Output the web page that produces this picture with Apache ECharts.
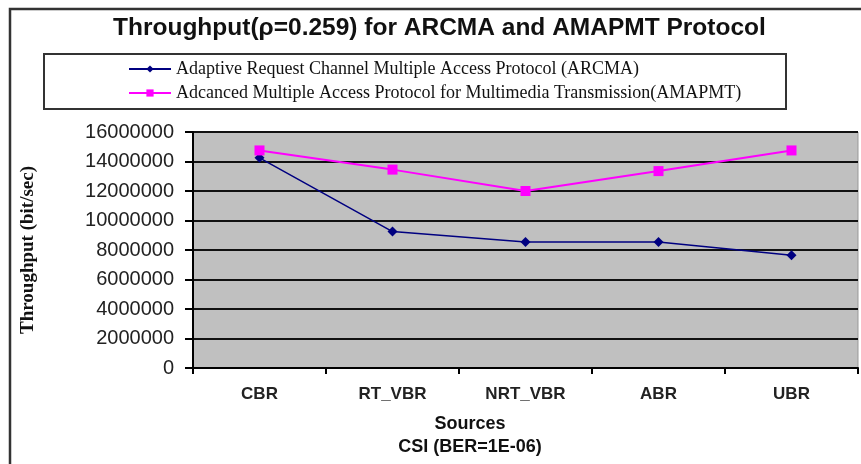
<!DOCTYPE html>
<html>
<head>
<meta charset="utf-8">
<script src="https://cdn.jsdelivr.net/npm/echarts@6/dist/echarts.min.js"></script>
<style>
  html, body { margin: 0; padding: 0; background: #fff; }
  #chart { width: 861px; height: 464px; }
</style>
</head>
<body>
<div id="chart"></div>
<script>
const sources = ['CBR', 'RT_VBR', 'NRT_VBR', 'ABR', 'UBR'];
const arcma = [14250000, 9250000, 8550000, 8550000, 7650000];
const amapmt = [14750000, 13450000, 12000000, 13350000, 14750000];
const yTicks = { min: 0, max: 16000000, interval: 2000000 };

const arcmaName = 'Adaptive Request Channel Multiple Access Protocol (ARCMA)';
const amapmtName = 'Adcanced Multiple Access Protocol for Multimedia Transmission(AMAPMT)';

const chart = echarts.init(document.getElementById('chart'));

const option = {
  animation: false,
  backgroundColor: '#fff',
  title: {
    text: 'Throughput(\u03c1=0.259) for ARCMA and AMAPMT Protocol',
    left: 108,
    top: 11,
    textStyle: { fontFamily: 'Liberation Sans', fontSize: 24.5, fontWeight: 'bold', color: '#111' }
  },
  legend: {
    orient: 'vertical',
    left: 123,
    top: 55,
    itemWidth: 42,
    itemHeight: 9,
    itemGap: 6,
    data: [arcmaName, amapmtName],
    textStyle: { fontFamily: 'Liberation Serif', fontSize: 18, color: '#111' }
  },
  grid: {
    left: 193,
    right: 3,
    top: 132,
    bottom: 96,
    show: true,
    backgroundColor: '#c0c0c0',
    borderColor: '#999',
    borderWidth: 1
  },
  xAxis: {
    type: 'category',
    data: sources,
    axisLine: { lineStyle: { color: '#000', width: 2 } },
    axisTick: { show: true, length: 6, lineStyle: { color: '#000', width: 2 } },
    axisLabel: { margin: 18, fontFamily: 'Liberation Sans', fontSize: 17, fontWeight: 'bold', color: '#222' },
    splitLine: { show: false }
  },
  yAxis: {
    type: 'value',
    min: yTicks.min,
    max: yTicks.max,
    interval: yTicks.interval,
    name: 'Throughput (bit/sec)',
    nameLocation: 'middle',
    nameRotate: 90,
    nameGap: 155,
    nameTextStyle: { fontFamily: 'Liberation Serif', fontSize: 19, fontWeight: 'bold', color: '#111' },
    axisLine: { show: true, lineStyle: { color: '#000', width: 2 } },
    axisTick: { show: true, length: 8, lineStyle: { color: '#000', width: 2 } },
    axisLabel: {
      margin: 19,
      fontFamily: 'Liberation Sans',
      fontSize: 20,
      color: '#222',
      formatter: v => String(v)
    },
    splitLine: { show: true, lineStyle: { color: '#111', width: 2 } }
  },
  series: [
    {
      name: arcmaName,
      type: 'line',
      data: arcma,
      symbol: 'diamond',
      symbolSize: 10,
      itemStyle: { color: '#000080' },
      lineStyle: { color: '#000080', width: 1.5 }
    },
    {
      name: amapmtName,
      type: 'line',
      data: amapmt,
      symbol: 'rect',
      symbolSize: 10,
      itemStyle: { color: '#ff00ff' },
      lineStyle: { color: '#ff00ff', width: 2 }
    }
  ],
  graphic: [
    {
      type: 'rect',
      shape: { x: 10, y: 9, width: 900, height: 500 },
      style: { fill: 'none', stroke: '#333', lineWidth: 2.5 },
      silent: true
    },
    {
      type: 'rect',
      shape: { x: 44, y: 54, width: 742, height: 55 },
      style: { fill: 'none', stroke: '#333', lineWidth: 2 },
      silent: true
    },
    {
      type: 'text',
      x: 470,
      y: 424,
      style: {
        text: 'Sources',
        textAlign: 'center',
        textVerticalAlign: 'middle',
        font: 'bold 18px "Liberation Sans"',
        fill: '#111'
      }
    },
    {
      type: 'text',
      x: 470,
      y: 447,
      style: {
        text: 'CSI (BER=1E-06)',
        textAlign: 'center',
        textVerticalAlign: 'middle',
        font: 'bold 18px "Liberation Sans"',
        fill: '#111'
      }
    }
  ]
};

chart.setOption(option);
</script>
</body>
</html>
